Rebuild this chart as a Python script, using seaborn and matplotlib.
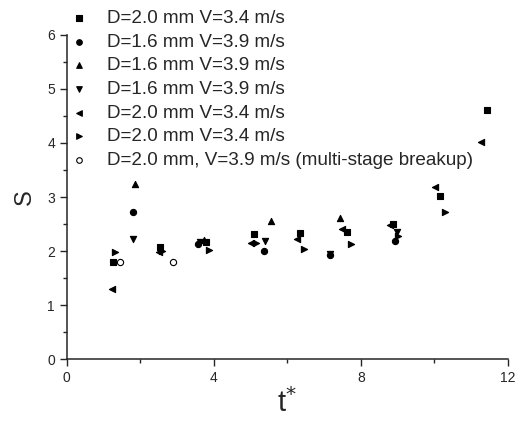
import matplotlib
matplotlib.use("Agg")
import matplotlib.pyplot as plt
import seaborn as sns
import pandas as pd

labels = [
    "D=2.0 mm V=3.4 m/s",
    "D=1.6 mm V=3.9 m/s",
    "D=1.6 mm V=3.9 m/s ",
    "D=1.6 mm V=3.9 m/s  ",
    "D=2.0 mm V=3.4 m/s ",
    "D=2.0 mm V=3.4 m/s  ",
    "D=2.0 mm, V=3.9 m/s (multi-stage breakup)",
]
markers = ["s", "o", "^", "v", "<", ">", "o"]

sq_t = [1.26, 2.54, 3.80, 5.08, 6.34, 7.63, 8.88, 10.16, 11.42]
sq_s = [1.79, 2.08, 2.17, 2.31, 2.33, 2.36, 2.50, 3.02, 4.61]
ci_t = [1.79, 3.57, 5.37, 7.17, 8.94]
ci_s = [2.72, 2.13, 2.01, 1.92, 2.18]
up_t = [1.86, 3.72, 5.56, 7.43]
up_s = [3.24, 2.20, 2.56, 2.62]
dn_t = [1.80, 3.62, 5.38, 7.17, 8.97]
dn_s = [2.22, 2.17, 2.19, 1.94, 2.35]
lt_t = [1.23, 2.50, 3.72, 5.00, 6.25, 7.50, 8.79, 10.01, 11.26]
lt_s = [1.30, 1.98, 2.17, 2.14, 2.22, 2.40, 2.48, 3.19, 4.01]
rt_t = [1.31, 2.60, 3.86, 5.16, 6.44, 7.72, 9.02, 10.29]
rt_s = [1.98, 2.00, 2.02, 2.15, 2.03, 2.13, 2.28, 2.73]
op_t = [1.46, 2.90]
op_s = [1.79, 1.80]

series = [(sq_t, sq_s), (ci_t, ci_s), (up_t, up_s), (dn_t, dn_s),
          (lt_t, lt_s), (rt_t, rt_s), (op_t, op_s)]

sns.set_style("ticks")
plt.rcParams["font.family"] = ["Liberation Sans", "DejaVu Sans"]

fig = plt.figure(figsize=(5.22, 4.21), dpi=100)
ax = fig.add_axes([0.128, 0.147, 0.845, 0.77])

for i, ((t, s), lab, m) in enumerate(zip(series, labels, markers)):
    df = pd.DataFrame({"t": t, "S": s})
    face = "white" if i == 6 else "black"
    sns.scatterplot(data=df, x="t", y="S", marker=m, s=20, color=face,
                    edgecolor="black", linewidth=0.8, label=lab, ax=ax)

ax.set_xlim(0, 12)
ax.set_ylim(0, 6)
ax.set_xticks([0, 4, 8, 12])
ax.set_xticks([2, 6, 10], minor=True)
ax.set_yticks([0, 1, 2, 3, 4, 5, 6])
ax.set_yticks([0.5, 1.5, 2.5, 3.5, 4.5, 5.5], minor=True)
ax.tick_params(which="major", direction="out", length=5, width=1, labelsize=10)
ax.tick_params(which="minor", direction="out", length=3, width=1)
for side in ["top", "right"]:
    ax.spines[side].set_visible(False)
for side in ["left", "bottom"]:
    ax.spines[side].set_linewidth(1.1)

ax.set_xlabel("t$^{*}$", fontsize=21, labelpad=2)
ax.set_ylabel("S", fontsize=17, labelpad=8)

ax.legend(loc="upper left", bbox_to_anchor=(0.11, 1.008),
          bbox_transform=fig.transFigure, frameon=False, fontsize=13.6,
          handletextpad=1.0, labelspacing=0.34, borderpad=0.2,
          handlelength=0.9, markerscale=0.9)

fig.savefig("out.png", dpi=100)
